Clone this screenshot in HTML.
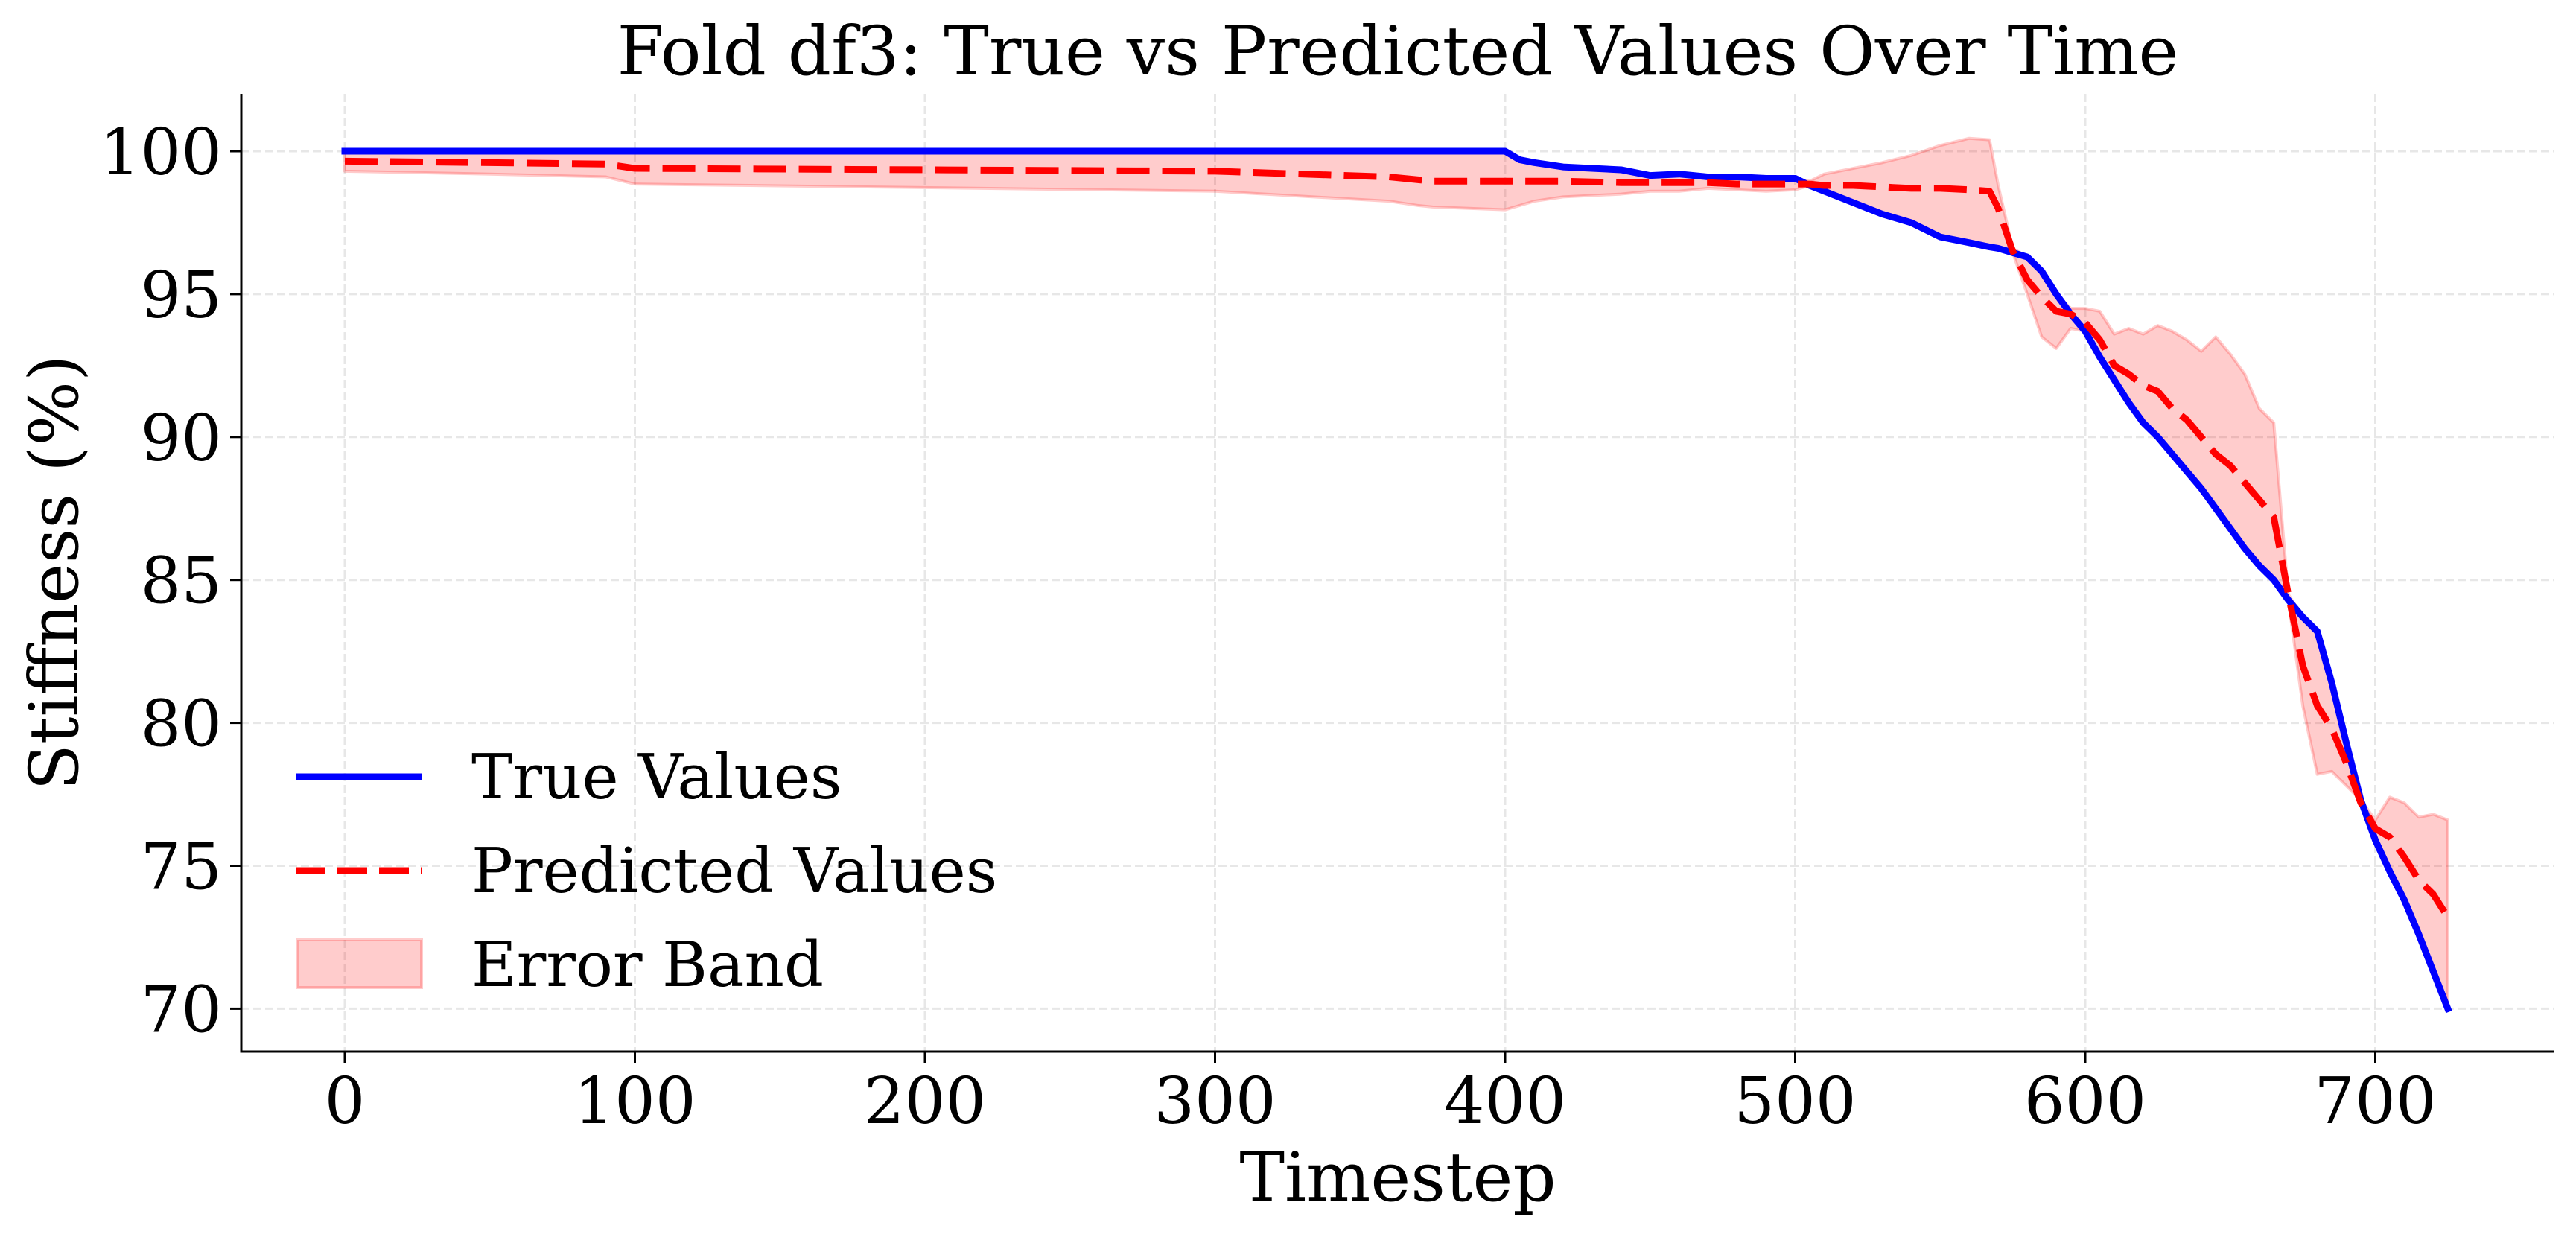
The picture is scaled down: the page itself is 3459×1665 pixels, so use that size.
<!DOCTYPE html>
<html><head><meta charset="utf-8"><style>
html,body{margin:0;padding:0;background:#fff;}
svg text{font-family:"DejaVu Serif","Liberation Serif",serif;fill:#000;}
</style></head><body>
<svg id="chart" xmlns="http://www.w3.org/2000/svg" width="3459" height="1660" viewBox="0 0 3459 1660">
<rect x="0" y="0" width="3459" height="1660" fill="#fff"/>
<g id="grid"></g>
<g id="plot"></g>
<g id="axes"></g>
<text x="1877" y="100" font-size="91" text-anchor="middle">Fold df3: True vs Predicted Values Over Time</text>
<text x="1877" y="1612" font-size="91" text-anchor="middle">Timestep</text>
<text x="0" y="0" font-size="91" text-anchor="middle" transform="translate(104,769) rotate(-90)">Stiffness (%)</text>
<g>
<line x1="397" y1="1043" x2="567" y2="1043" stroke="#0000ff" stroke-width="9"/>
<text x="633" y="1072" font-size="83">True Values</text>
<line x1="397" y1="1169" x2="567" y2="1169" stroke="#ff0000" stroke-width="9" stroke-dasharray="40,16"/>
<text x="633" y="1198" font-size="83">Predicted Values</text>
<rect x="399" y="1262" width="167" height="64" fill="rgba(255,0,0,0.2)" stroke="rgba(255,0,0,0.2)" stroke-width="4"/>
<text x="633" y="1324" font-size="83">Error Band</text>
</g>
</svg>
<script>
const timesteps=[0,50,90,100,300,360,370,375,400,405,410,420,440,450,460,470,480,490,500,505,510,520,530,540,550,560,567,570,575,580,585,590,595,600,605,610,615,620,625,630,635,640,645,650,655,660,665,670,675,680,685,690,695,700,705,710,715,720,725];
const trueValues=[100,100,100,100,100,100,100,100,100,99.7,99.6,99.45,99.35,99.15,99.2,99.1,99.1,99.05,99.05,98.8,98.6,98.2,97.8,97.5,97.0,96.8,96.65,96.6,96.45,96.3,95.8,95.0,94.3,93.7,92.8,92.0,91.2,90.5,90.0,89.4,88.8,88.2,87.5,86.8,86.1,85.5,85.0,84.3,83.7,83.2,81.4,79.3,77.3,75.9,74.8,73.8,72.6,71.3,70.0];
const predValues=[99.65,99.6,99.55,99.4,99.3,99.1,99.0,98.95,98.95,98.95,98.95,98.95,98.9,98.9,98.9,98.9,98.85,98.85,98.85,98.85,98.8,98.8,98.75,98.7,98.7,98.65,98.6,98.0,96.5,95.5,94.9,94.4,94.3,94.0,93.4,92.5,92.2,91.8,91.6,91.0,90.6,90.0,89.4,89.0,88.4,87.8,87.2,84.5,82.0,80.6,79.8,78.6,77.2,76.3,76.0,75.3,74.5,74.0,73.2];
const lowerValues=[99.3,99.2,99.1,98.85,98.6,98.25,98.1,98.05,97.95,98.1,98.25,98.4,98.5,98.6,98.6,98.7,98.65,98.6,98.65,98.8,98.6,98.2,97.8,97.5,97.0,96.8,96.65,96.6,96.45,95.0,93.5,93.1,93.8,93.7,92.8,92.0,91.2,90.5,90.0,89.4,88.8,88.2,87.5,86.8,86.1,85.5,85.0,84.3,80.6,78.2,78.3,77.8,77.3,75.9,74.8,73.8,72.6,71.3,70.0];
const upperValues=[100,100,100,100,100,100,100,100,100,99.7,99.6,99.45,99.35,99.15,99.2,99.1,99.1,99.05,99.05,98.95,99.2,99.4,99.6,99.85,100.2,100.45,100.4,98.8,96.6,96.3,95.8,95.0,94.5,94.5,94.4,93.6,93.8,93.6,93.9,93.7,93.4,93.0,93.5,92.9,92.2,91.0,90.5,84.5,83.7,83.2,81.4,79.3,77.3,76.6,77.4,77.2,76.7,76.8,76.6];
const xTicks=[0,100,200,300,400,500,600,700];
const yTicks=[70,75,80,85,90,95,100];

const NS='http://www.w3.org/2000/svg';
const L=324,R=3430,T=126,B=1412;
function xs(v){return 463+v*3.895;}
function ys(v){return 203+(100-v)*38.38;}
function mk(tag,attrs,parent){const e=document.createElementNS(NS,tag);for(const k in attrs)e.setAttribute(k,attrs[k]);parent.appendChild(e);return e;}
const grid=document.getElementById('grid'),plot=document.getElementById('plot'),axes=document.getElementById('axes');

xTicks.forEach(v=>{
  const g=mk('line',{x1:xs(v),x2:xs(v),y1:T,y2:B,stroke:'#b0b0b0','stroke-opacity':0.3,'stroke-width':3,'stroke-dasharray':'11,5'},grid);
  
  
  const t=mk('line',{x1:xs(v),x2:xs(v),y1:B,y2:B+15,stroke:'#000','stroke-width':3},axes);
  
  
  const l=mk('text',{x:xs(v),y:1508,'font-size':86,'text-anchor':'middle'},axes);
  l.textContent=v;
  
  
});
yTicks.forEach(v=>{
  const g=mk('line',{x1:L,x2:R,y1:ys(v),y2:ys(v),stroke:'#b0b0b0','stroke-opacity':0.3,'stroke-width':3,'stroke-dasharray':'11,5'},grid);
  
  
  const t=mk('line',{x1:L-15,x2:L,y1:ys(v),y2:ys(v),stroke:'#000','stroke-width':3},axes);
  
  
  const l=mk('text',{x:298,y:ys(v)+31,'font-size':86,'text-anchor':'end'},axes);
  l.textContent=v;
  
  
});
const sl=mk('line',{x1:L,x2:L,y1:T,y2:B+1.5,stroke:'#000','stroke-width':3},axes);


const sb=mk('line',{x1:L-1.5,x2:R,y1:B,y2:B,stroke:'#000','stroke-width':3},axes);



let d='';
timesteps.forEach((t,i)=>{d+=(i?'L':'M')+xs(t)+','+ys(upperValues[i]);});
for(let i=timesteps.length-1;i>=0;i--){d+='L'+xs(timesteps[i])+','+ys(lowerValues[i]);}
d+='Z';
const band=mk('path',{d:d,fill:'rgba(255,0,0,0.2)',stroke:'rgba(255,0,0,0.2)','stroke-width':4,'stroke-linejoin':'round'},plot);



function line(vals){return timesteps.map((t,i)=>(i?'L':'M')+xs(t)+','+ys(vals[i])).join('');}
const tl=mk('path',{d:line(trueValues),fill:'none',stroke:'#0000ff','stroke-width':9,'stroke-linejoin':'round','stroke-linecap':'square'},plot);


const pl=mk('path',{d:line(predValues),fill:'none',stroke:'#ff0000','stroke-width':9,'stroke-dasharray':'44,17','stroke-linejoin':'round'},plot);


</script>
</body></html>
